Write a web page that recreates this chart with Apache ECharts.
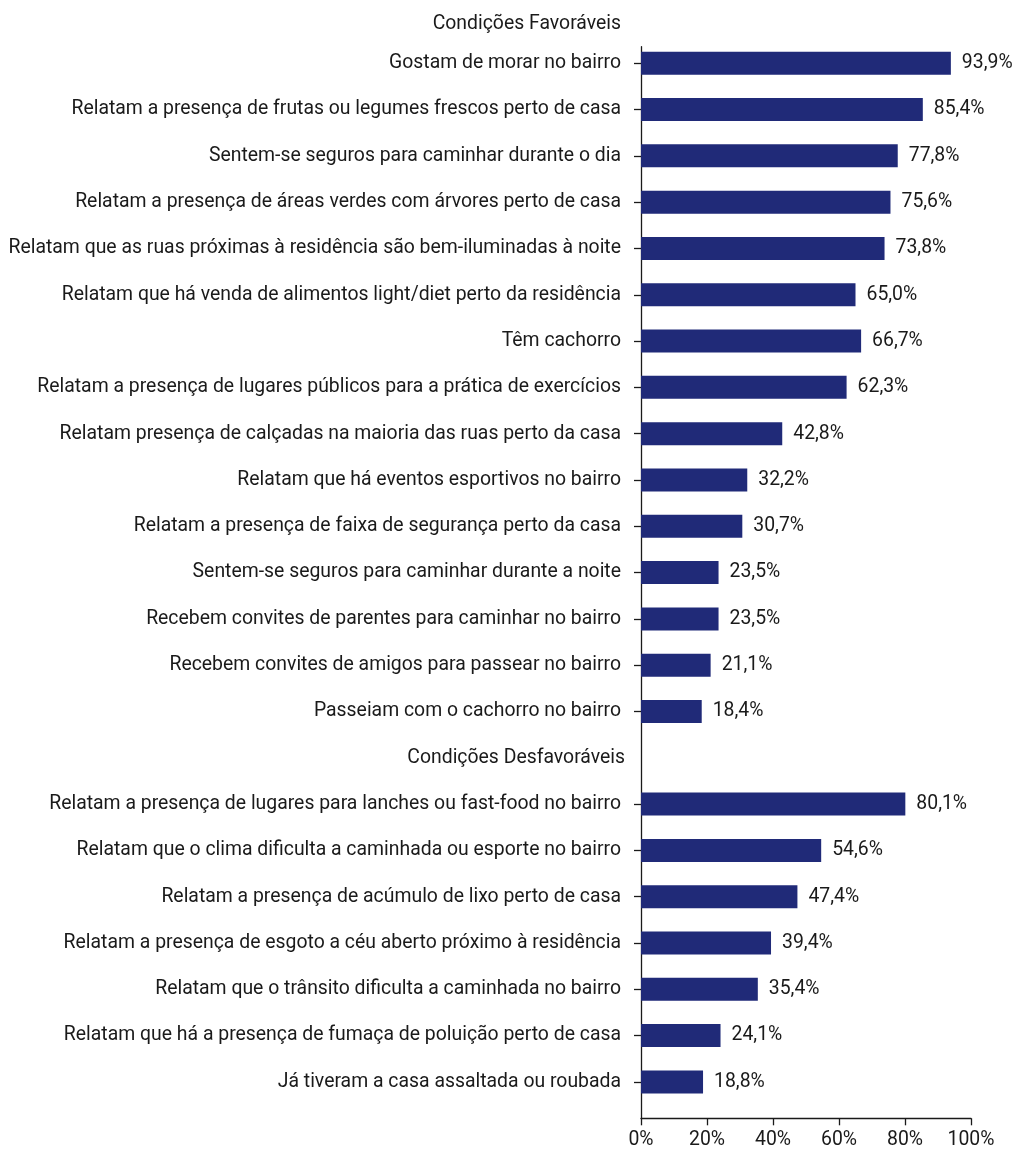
<!DOCTYPE html>
<html>
<head>
<meta charset="utf-8">
<script src="https://cdn.jsdelivr.net/npm/echarts@6/dist/echarts.min.js"></script>
<style>
html,body{margin:0;padding:0;background:#fff;}
#chart{width:1019px;height:1151px;}
</style>
</head>
<body>
<div id="chart"></div>
<script>
const headerFav = 'Condições Favoráveis';
const favLabels = [
  'Gostam de morar no bairro',
  'Relatam a presença de frutas ou legumes frescos perto de casa',
  'Sentem-se seguros para caminhar durante o dia',
  'Relatam a presença de áreas verdes com árvores perto de casa',
  'Relatam que as ruas próximas à residência são bem-iluminadas à noite',
  'Relatam que há venda de alimentos light/diet perto da residência',
  'Têm cachorro',
  'Relatam a presença de lugares públicos para a prática de exercícios',
  'Relatam presença de calçadas na maioria das ruas perto da casa',
  'Relatam que há eventos esportivos no bairro',
  'Relatam a presença de faixa de segurança perto da casa',
  'Sentem-se seguros para caminhar durante a noite',
  'Recebem convites de parentes para caminhar no bairro',
  'Recebem convites de amigos para passear no bairro',
  'Passeiam com o cachorro no bairro'
];
const favValues = [93.9, 85.4, 77.8, 75.6, 73.8, 65.0, 66.7, 62.3, 42.8, 32.2, 30.7, 23.5, 23.5, 21.1, 18.4];
const headerDesfav = 'Condições Desfavoráveis';
const desfavLabels = [
  'Relatam a presença de lugares para lanches ou fast-food no bairro',
  'Relatam que o clima dificulta a caminhada ou esporte no bairro',
  'Relatam a presença de acúmulo de lixo perto de casa',
  'Relatam a presença de esgoto a céu aberto próximo à residência',
  'Relatam que o trânsito dificulta a caminhada no bairro',
  'Relatam que há a presença de fumaça de poluição perto de casa',
  'Já tiveram a casa assaltada ou roubada'
];
const desfavValues = [80.1, 54.6, 47.4, 39.4, 35.4, 24.1, 18.8];
const xTicks = [0, 20, 40, 60, 80, 100];

// rows in display order (header row has no bar)
const rowLabels = favLabels.concat([headerDesfav], desfavLabels);
const rowValues = favValues.concat([null], desfavValues);
const rowIsHeader = rowLabels.map(l => l === headerDesfav);

// fine slot grid so that rows sit where the reference places them
const SUB = 7, LEAD = 2, TRAIL = 5;
const nSlots = LEAD + SUB * (rowLabels.length - 1) + 1 + TRAIL;
const slotCats = [], slotVals = [], slotLabel = {}, slotTick = {};
for (let s = 0; s < nSlots; s++) { slotCats.push('s' + s); slotVals.push(null); }
rowLabels.forEach((lab, i) => {
  const s = LEAD + SUB * i;
  slotLabel[s] = lab;
  slotTick[s] = !rowIsHeader[i];
  slotVals[s] = rowValues[i];
});

const FONT = 'Roboto';
const FS = 19.4;
const TXT = '#1a1a1a';
const chart = echarts.init(document.getElementById('chart'));
chart.setOption({
  animation: false,
  backgroundColor: '#ffffff',
  title: {
    text: headerFav,
    right: 393,
    top: 10,
    textStyle: { fontFamily: FONT, fontSize: FS, fontWeight: 'normal', color: TXT }
  },
  grid: { left: 641, right: 48, top: 46.7, bottom: 32.7, containLabel: false, outerBoundsMode: 'none' },
  xAxis: {
    type: 'value',
    min: xTicks[0], max: xTicks[xTicks.length - 1], interval: xTicks[1] - xTicks[0],
    splitLine: { show: false },
    axisLine: { show: true, lineStyle: { color: TXT, width: 1.3 } },
    axisTick: { show: true, length: 7, lineStyle: { color: TXT, width: 1.3 } },
    axisLabel: {
      margin: 12,
      fontFamily: FONT, fontSize: FS, color: TXT,
      formatter: v => v + '%'
    }
  },
  yAxis: {
    type: 'category',
    inverse: true,
    data: slotCats,
    axisLine: { show: true, lineStyle: { color: TXT, width: 1.3 } },
    axisTick: {
      show: true, length: 7, alignWithLabel: true,
      interval: (idx) => slotTick[idx] === true,
      lineStyle: { color: TXT, width: 1.3 }
    },
    axisLabel: {
      margin: 16,
      interval: (idx) => slotLabel[idx] !== undefined,
      formatter: (v, idx) => {
        const lab = slotLabel[idx];
        if (lab === undefined) return '';
        return slotTick[idx] ? '{n|' + lab + '}' : '{h|' + lab + '}';
      },
      fontFamily: FONT, fontSize: FS, color: TXT,
      rich: {
        n: { fontFamily: FONT, fontSize: FS, color: TXT, padding: [0, 4, 0, 0] },
        h: { fontFamily: FONT, fontSize: FS, color: TXT }
      }
    },
    splitLine: { show: false }
  },
  series: [{
    type: 'bar',
    data: slotVals,
    barWidth: 23,
    itemStyle: { color: '#202A78' },
    label: {
      show: true,
      position: 'right',
      distance: 11,
      fontFamily: FONT, fontSize: FS, color: TXT,
      formatter: p => p.value == null ? '' : p.value.toFixed(1).replace('.', ',') + '%'
    }
  }]
});
</script>
</body>
</html>
